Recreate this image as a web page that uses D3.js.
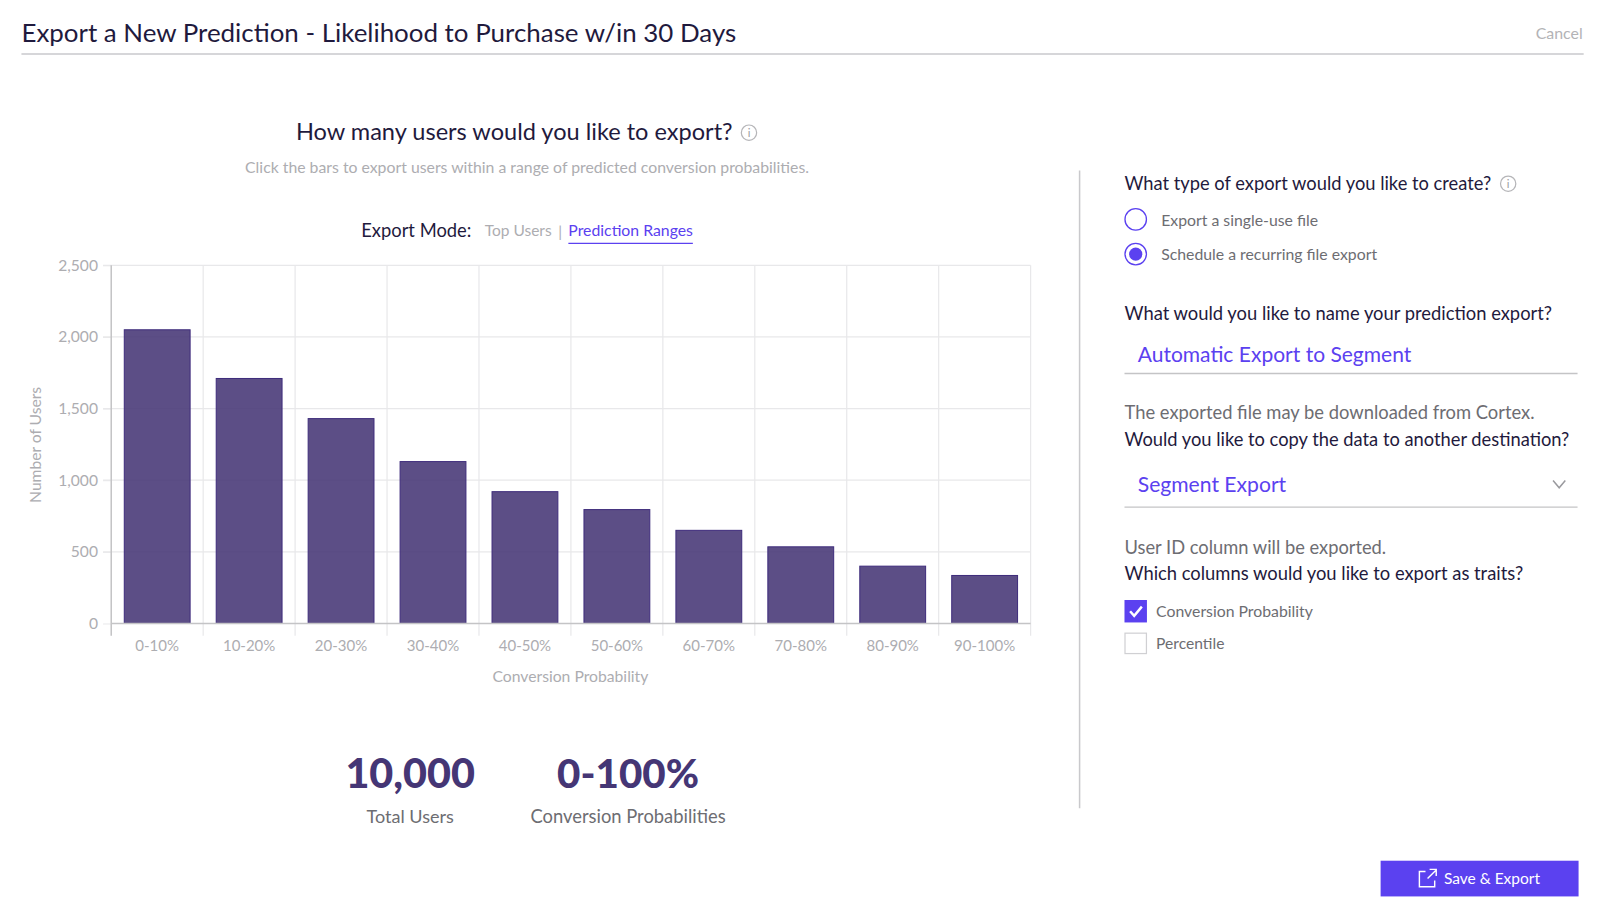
<!DOCTYPE html>
<html>
<head>
<meta charset="utf-8">
<script src="https://cdnjs.cloudflare.com/ajax/libs/d3/7.8.5/d3.min.js"></script>
<style>
  html, body { margin: 0; background: #fff; overflow: hidden; }
  text { font-family: Lato, "Open Sans", sans-serif; }
</style>
</head>
<body>
<div id="container"></div>
<script>
// layout below is measured on a 1568 wide copy, viewBox takes it up to 1600
const width = 1568, height = 901.6
const margin = { top: 260, left: 109, right: 1010, bottom: 611 }

// DATA
const ranges = ["0-10%", "10-20%", "20-30%", "30-40%", "40-50%", "50-60%", "60-70%", "70-80%", "80-90%", "90-100%"]
const users = [2050, 1710, 1430, 1130, 920, 795, 650, 535, 400, 335]
const userTicks = [0, 500, 1000, 1500, 2000, 2500]

const dark = "#1f1a3d", grey = "#adadb1", mid = "#6d6d72", purple = "#5b41f0", barFill = "#453675", barEdge = "#3f2d7c"

const svg = d3.select("#container").append("svg")
  .attr("width", 1600)
  .attr("height", 920)
  .attr("viewBox", `0 0 ${width} ${height}`)
  .style("display", "block")

function label(x, y, str, size, color, anchor, weight) {
  return svg.append("text")
    .attr("x", x).attr("y", y)
    .attr("font-size", size)
    .attr("fill", color)
    .attr("text-anchor", anchor || "start")
    .attr("font-weight", weight || 400)
    .text(str)
}

function infoIcon(x, y) {
  svg.append("circle").attr("cx", x).attr("cy", y).attr("r", 7.5)
    .attr("fill", "none").attr("stroke", "#b5b5b8").attr("stroke-width", 1.2)
  label(x, y + 4, "i", 11, "#9a9a9e", "middle")
}

// HEADER
label(21, 41, "Export a New Prediction - Likelihood to Purchase w/in 30 Days", 25.4, dark)
label(1551, 38, "Cancel", 15.6, "#b3b3b6", "end")
svg.append("line").attr("x1", 21).attr("x2", 1552).attr("y1", 53).attr("y2", 53).attr("stroke", "#c9c9cc").attr("stroke-width", 1.5)

// CHART HEADING
label(504, 137, "How many users would you like to export?", 23.1, dark, "middle")
infoIcon(734, 130)
label(516.5, 169.5, "Click the bars to export users within a range of predicted conversion probabilities.", 15.5, "#adadb1", "middle")
label(354, 232, "Export Mode:", 18, dark)
label(475, 231.5, "Top Users", 15.2, "#adadb1")
label(549, 232, "|", 15, "#adadb1", "middle")
label(557, 231.5, "Prediction Ranges", 15.5, purple)
svg.append("line").attr("x1", 557).attr("x2", 679).attr("y1", 238.5).attr("y2", 238.5).attr("stroke", purple).attr("stroke-width", 1.2)

// SCALES
const xScale = d3.scaleBand()
  .domain(ranges)
  .range([margin.left, margin.right])
  .paddingInner(0.284)
  .paddingOuter(0.142)

const yScale = d3.scaleLinear()
  .domain([0, 2500])
  .range([margin.bottom, margin.top])

// GRID
svg.append("g").selectAll("line")
  .data(userTicks.slice(1))
  .join("line")
  .attr("x1", margin.left - 8).attr("x2", margin.right)
  .attr("y1", d => yScale(d)).attr("y2", d => yScale(d))
  .attr("stroke", "#e8e8ea")
  .attr("stroke-width", 1.2)

const step = xScale.step()
svg.append("g").selectAll("line")
  .data(ranges)
  .join("line")
  .attr("x1", d => xScale(d) + xScale.bandwidth() + (step - xScale.bandwidth()) / 2)
  .attr("x2", d => xScale(d) + xScale.bandwidth() + (step - xScale.bandwidth()) / 2)
  .attr("y1", margin.top).attr("y2", margin.bottom + 12)
  .attr("stroke", "#e8e8ea")
  .attr("stroke-width", 1.2)

// BARS
svg.append("g").selectAll("rect")
  .data(users)
  .join("rect")
  .attr("x", (d, i) => xScale(ranges[i]))
  .attr("y", d => yScale(d))
  .attr("width", xScale.bandwidth())
  .attr("height", d => yScale(0) - yScale(d))
  .attr("fill", barFill)
  .attr("fill-opacity", 0.88)
  .attr("stroke", barEdge)
  .attr("stroke-width", 1)

// AXES
const yAxis = d3.axisLeft(yScale)
  .tickValues(userTicks)
  .tickFormat(d3.format(","))
  .tickSize(8)
svg.append("g")
  .attr("transform", `translate(${margin.left},0)`)
  .call(yAxis)
  .call(g => g.select(".domain").remove())
  .call(g => g.selectAll("line").attr("stroke", "#e8e8ea"))
  .call(g => g.selectAll("text").attr("font-size", 15.3).attr("fill", grey).attr("x", -13).style("font-family", "Lato"))

const xAxis = d3.axisBottom(xScale).tickSize(0).tickPadding(17)
svg.append("g")
  .attr("transform", `translate(0,${margin.bottom})`)
  .call(xAxis)
  .call(g => g.select(".domain").remove())
  .call(g => g.selectAll("text").attr("font-size", 14.7).attr("fill", grey).style("font-family", "Lato"))

svg.append("line").attr("x1", margin.left).attr("x2", margin.left)
  .attr("y1", margin.top).attr("y2", margin.bottom + 12)
  .attr("stroke", "#c4c4c6").attr("stroke-width", 1.5)
svg.append("line").attr("x1", margin.left).attr("x2", margin.right)
  .attr("y1", margin.bottom).attr("y2", margin.bottom)
  .attr("stroke", "#c4c4c6").attr("stroke-width", 1.5)

label(559, 668, "Conversion Probability", 15.4, grey, "middle")
label(0, 0, "Number of Users", 15.3, grey, "middle")
  .attr("transform", "translate(40,436) rotate(-90)")

// SUMMARY
label(402, 772, "10,000", 40.5, "#453675", "middle", 900)
label(615.5, 772, "0-100%", 39.5, "#453675", "middle", 900)
label(402, 807, "Total Users", 17.7, mid, "middle")
label(615.5, 807, "Conversion Probabilities", 18, mid, "middle")

// DIVIDER
svg.append("line").attr("x1", 1058).attr("x2", 1058).attr("y1", 167).attr("y2", 792).attr("stroke", "#c9c9cc").attr("stroke-width", 1.5)

// RIGHT FORM
label(1102, 186, "What type of export would you like to create?", 17.95, dark)
infoIcon(1478, 180)

svg.append("circle").attr("cx", 1113).attr("cy", 215).attr("r", 10.5).attr("fill", "#fff").attr("stroke", purple).attr("stroke-width", 1.3)
label(1138, 221, "Export a single-use file", 15.5, mid)
svg.append("circle").attr("cx", 1113).attr("cy", 249).attr("r", 10.5).attr("fill", "#fff").attr("stroke", purple).attr("stroke-width", 1.3)
svg.append("circle").attr("cx", 1113).attr("cy", 249).attr("r", 6.5).attr("fill", purple)
label(1138, 255, "Schedule a recurring file export", 15.5, mid)

label(1102, 314, "What would you like to name your prediction export?", 18, dark)
label(1115, 355, "Automatic Export to Segment", 20.6, purple)
svg.append("line").attr("x1", 1102).attr("x2", 1546).attr("y1", 366).attr("y2", 366).attr("stroke", "#c4c4c6").attr("stroke-width", 1.3)

label(1102, 411, "The exported file may be downloaded from Cortex.", 18, mid)
label(1102, 437.5, "Would you like to copy the data to another destination?", 17.95, dark)
label(1115, 482.5, "Segment Export", 20.7, purple)
svg.append("path").attr("d", "M1522,471 L1528,478 L1534,471").attr("fill", "none").attr("stroke", "#9a9a9e").attr("stroke-width", 1.5)
svg.append("line").attr("x1", 1102).attr("x2", 1546).attr("y1", 497).attr("y2", 497).attr("stroke", "#c4c4c6").attr("stroke-width", 1.3)

label(1102, 542.5, "User ID column will be exported.", 17.95, mid)
label(1102, 568.5, "Which columns would you like to export as traits?", 18, dark)

svg.append("rect").attr("x", 1102).attr("y", 588).attr("width", 22).attr("height", 22).attr("fill", purple)
svg.append("path").attr("d", "M1107.5,599 L1111.5,603.5 L1119,594.5").attr("fill", "none").attr("stroke", "#fff").attr("stroke-width", 2.4)
label(1133, 605, "Conversion Probability", 15.5, mid)
svg.append("rect").attr("x", 1102.5).attr("y", 620.5).attr("width", 21).attr("height", 20).attr("fill", "#fff").attr("stroke", "#d0d0d3").attr("stroke-width", 1.2)
label(1133, 636, "Percentile", 15.3, mid)

// BUTTON
svg.append("rect").attr("x", 1353).attr("y", 843.5).attr("width", 194).attr("height", 35).attr("fill", purple)
svg.append("path").attr("d", "M1397,854 H1391 V869 H1406 V863 M1399,861 L1407,853 M1401,852 H1407.5 V858.5")
  .attr("fill", "none").attr("stroke", "#fff").attr("stroke-width", 1.4)
label(1415, 866, "Save & Export", 15.2, "#fff")
</script>
</body>
</html>
